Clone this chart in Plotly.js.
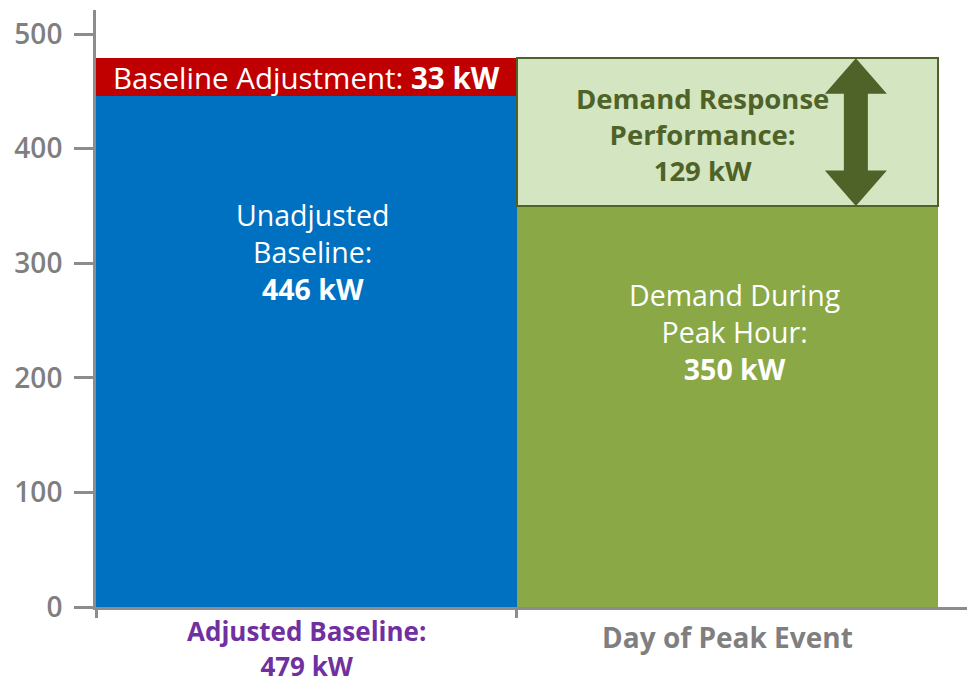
<!DOCTYPE html>
<html>
<head>
<meta charset="utf-8">
<script src="https://cdn.plot.ly/plotly-3.0.1.min.js"></script>
<style>html,body{margin:0;padding:0;background:#fff;}#chart{width:967px;height:685px;}</style>
</head>
<body>
<div id="chart"></div>
<script>
// ---- data ----
var categories = ["Adjusted Baseline", "Day of Peak Event"];
var categoryX = [0, 1];
var unadjustedBaseline = 446;   // kW
var baselineAdjustment = 33;    // kW
var peakHourDemand = 350;       // kW
var drPerformance = 129;        // kW
var adjustedBaseline = 479;     // kW
var yTicks = [0, 100, 200, 300, 400, 500];

// ---- styles ----
var FONT = "Open Sans, DejaVu Sans, sans-serif";
var GREY = "#7f7f7f";
var AXIS = "#8c8c8c";
var BLUE = "#0070c0", RED = "#c00000", GREEN = "#8aa846", LIGHTGREEN = "#d3e5c1", DARKGREEN = "#4f6228", PURPLE = "#7030a0";

var traces = [
  {type: "bar", x: [categoryX[0]], y: [unadjustedBaseline], width: 1, marker: {color: BLUE, line: {width: 0}}, hoverinfo: "skip"},
  {type: "bar", x: [categoryX[0]], y: [baselineAdjustment], width: 1, marker: {color: RED, line: {width: 0}}, hoverinfo: "skip"},
  {type: "bar", x: [categoryX[1]], y: [peakHourDemand], width: 1, marker: {color: GREEN, line: {width: 0}}, hoverinfo: "skip"},
  {type: "bar", x: [categoryX[1]], y: [drPerformance], width: 1, marker: {color: LIGHTGREEN, line: {width: 1.5, color: DARKGREEN}}, hoverinfo: "skip"}
];

// first category label is drawn as a 2-line annotation, second as tick label
var tickText = ["", "<b>" + categories[1] + "</b>"];
var big = function (s) { return "<span style='font-size:26px'><b>" + s + "</b></span>"; };

// arrow path (x in pixels around anchor, y in data units)
var topV = peakHourDemand + drPerformance, botV = peakHourDemand;
var hh = 31, hw = 31, sw = 12;
var arrowPath = "M0," + topV + " L" + hw + "," + (topV - hh) + " L" + sw + "," + (topV - hh) +
  " L" + sw + "," + (botV + hh) + " L" + hw + "," + (botV + hh) + " L0," + botV +
  " L" + (-hw) + "," + (botV + hh) + " L" + (-sw) + "," + (botV + hh) + " L" + (-sw) + "," + (topV - hh) +
  " L" + (-hw) + "," + (topV - hh) + " Z";

var layout = {
  width: 967, height: 685,
  margin: {l: 96, r: 0, t: 10, b: 78, pad: 0},
  paper_bgcolor: "#ffffff", plot_bgcolor: "#ffffff",
  showlegend: false,
  barmode: "stack", bargap: 0,
  font: {family: FONT, color: GREY, size: 25},
  xaxis: {
    range: [-0.5, 1.569],
    tickmode: "array", tickvals: categoryX, ticktext: tickText,
    ticks: "", showgrid: false, zeroline: false,
    showline: true, linecolor: AXIS, linewidth: 3,
    tickfont: {family: FONT, size: 28, color: GREY},
    ticklabelstandoff: 4,
    minor: {tickmode: "array", tickvals: [-0.5, 0.5], ticks: "outside", ticklen: 8, tickwidth: 3, tickcolor: AXIS, showgrid: false},
    fixedrange: true
  },
  yaxis: {
    range: [0, 521],
    tickmode: "array", tickvals: yTicks,
    ticks: "outside", ticklen: 19, tickwidth: 3, tickcolor: AXIS,
    showgrid: false, zeroline: false,
    showline: true, linecolor: AXIS, linewidth: 3,
    tickfont: {family: FONT, size: 28, weight: 600, color: GREY},
    ticklabelstandoff: 6,
    fixedrange: true
  },
  shapes: [{
    type: "path", xref: "x", yref: "y", xsizemode: "pixel", xanchor: 1.305,
    path: arrowPath, fillcolor: DARKGREEN, line: {width: 0}, layer: "above"
  }],
  annotations: [
    {x: categoryX[0], y: -0.0687, xref: "x", yref: "paper", yanchor: "middle", showarrow: false,
     text: big(categories[0] + ":") + "<br>" + big(adjustedBaseline + " kW"), font: {family: FONT, size: 27.3, color: PURPLE}},
    {x: categoryX[0], y: unadjustedBaseline + baselineAdjustment / 2, xref: "x", yref: "y", showarrow: false,
     text: "Baseline Adjustment: <b>" + baselineAdjustment + " kW</b>", font: {family: FONT, size: 29.5, color: "#ffffff"}},
    {x: 0.015, y: 310, xref: "x", yref: "y", showarrow: false,
     text: "Unadjusted<br>Baseline:<br><b>" + unadjustedBaseline + " kW</b>", font: {family: FONT, size: 28.5, color: "#ffffff"}},
    {x: 1.017, y: 240, xref: "x", yref: "y", showarrow: false,
     text: "Demand During<br>Peak Hour:<br><b>" + peakHourDemand + " kW</b>", font: {family: FONT, size: 28.5, color: "#ffffff"}},
    {x: 0.94, y: peakHourDemand + drPerformance / 2 - 2, xref: "x", yref: "y", showarrow: false,
     text: "<b>Demand Response<br>Performance:<br>" + drPerformance + " kW</b>", font: {family: FONT, size: 27.5, color: DARKGREEN}}
  ]
};

Plotly.newPlot("chart", traces, layout, {displayModeBar: false, staticPlot: true});
</script>
</body>
</html>
